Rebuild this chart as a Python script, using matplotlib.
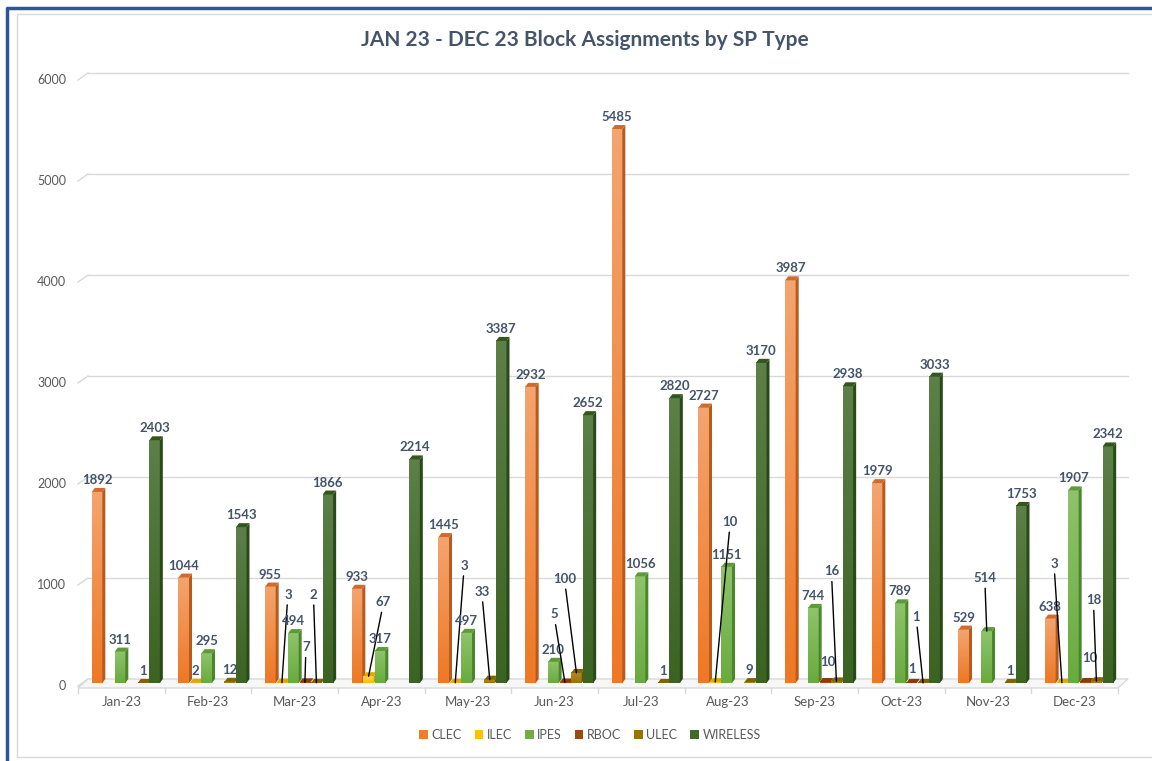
import numpy as np
import matplotlib
matplotlib.use("Agg")
import matplotlib.pyplot as plt
from matplotlib.patches import Polygon, Patch
from matplotlib.lines import Line2D
from matplotlib.colors import LinearSegmentedColormap

plt.rcParams['font.family'] = ['Lato', 'DejaVu Sans']

# data
months = ['Jan-23', 'Feb-23', 'Mar-23', 'Apr-23', 'May-23', 'Jun-23',
          'Jul-23', 'Aug-23', 'Sep-23', 'Oct-23', 'Nov-23', 'Dec-23']
series_names = ['CLEC', 'ILEC', 'IPES', 'RBOC', 'ULEC', 'WIRELESS']
clec = [1892, 1044, 955, 933, 1445, 2932, 5485, 2727, 3987, 1979, 529, 638]
ilec = [0, 2, 3, 67, 3, 0, 0, 10, 0, 0, 0, 3]
ipes = [311, 295, 494, 317, 497, 210, 1056, 1151, 744, 789, 514, 1907]
rboc = [0, 0, 7, 0, 0, 5, 0, 0, 10, 1, 0, 10]
ulec = [1, 12, 2, 0, 33, 100, 1, 9, 16, 1, 1, 18]
wireless = [2403, 1543, 1866, 2214, 3387, 2652, 2820, 3170, 2938, 3033, 1753, 2342]
yticks = [0, 1000, 2000, 3000, 4000, 5000, 6000]

values = [clec, ilec, ipes, rboc, ulec, wireless]

# styles: (front top, front bottom, side, top face, legend)
styles = [
    ('#F4A46F', '#EE7824', '#B65A1E', '#D06B30', '#ED7D31'),
    ('#FFD54F', '#FFC000', '#C99700', '#E0A800', '#FFC000'),
    ('#8EC36B', '#69AB3E', '#4C862C', '#5E9A38', '#70AD47'),
    ('#C0562A', '#A7430F', '#78300A', '#8E3A0C', '#9E480E'),
    ('#B68C1F', '#9A7308', '#6C5105', '#826206', '#997300'),
    ('#5C8048', '#3B6322', '#2A4918', '#34561D', '#43682B'),
]

# label offsets in pixels (dx, dy) for small values, from bar top
label_offsets = {
    (1, 2): (6, 88), (3, 2): (1, 35), (4, 2): (-3, 88),
    (1, 3): (15, 74),
    (1, 4): (9, 117), (4, 4): (-8, 88),
    (3, 5): (-11, 68), (4, 5): (-12, 94),
    (1, 7): (15, 160),
    (3, 8): (3, 20), (4, 8): (-5, 110),
    (3, 9): (0, 14), (4, 9): (-7, 66),
    (2, 10): (-2, 53),
    (1, 11): (-8, 119), (3, 11): (5, 24), (4, 11): (-3, 81),
}

W, H = 1152, 761
fig = plt.figure(figsize=(W / 100, H / 100), dpi=100)
ax = fig.add_axes([88 / W, (H - 679) / H, 1040 / W, 606 / H])
ax.set_xlim(-0.5, 11.5)
ax.set_ylim(0, 6000)
ax.axis('off')

PX = 12 / 1040.0
PY = 6000 / 606.0
text_col = '#595959'
lab_col = '#44546A'

# floor
floor = Polygon([(-0.5, 0), (11.5, 0), (11.5 - 10 * PX, -9 * PY), (-0.5 - 10 * PX, -9 * PY)],
                closed=True, facecolor='#F7F7F7', edgecolor='#D9D9D9', lw=1, clip_on=False, zorder=1)
ax.add_patch(floor)
for j in range(13):
    x = -0.5 - 10 * PX + j
    ax.plot([x, x], [-9 * PY, -14 * PY], color='#D9D9D9', lw=1, clip_on=False, zorder=1)

# gridlines with hooks
for v in yticks:
    if v > 0:
        ax.plot([-0.5, 11.5], [v, v], color='#D9D9D9', lw=1, clip_on=False, zorder=0)
    ax.plot([-0.5, -0.5 - 10 * PX], [v, v - 7 * PY], color='#D9D9D9', lw=1, clip_on=False, zorder=0)
    ax.text(-0.5 - 22 * PX, v - 7 * PY, str(v), ha='right', va='center',
            fontsize=9, color=text_col, clip_on=False)

for k, m in enumerate(months):
    ax.text(k - 10 * PX, -23 * PY, m, ha='center', va='center', fontsize=9.5, color=text_col, clip_on=False)

# bars
bw = 10.5 * PX
sp = 11.5 * PX
ddx = 3 * PX
ddy = 4 * PY
for i, vals in enumerate(values):
    ctop, cbot, cside, ctopf, _ = styles[i]
    cmap = LinearSegmentedColormap.from_list('g%d' % i, [cbot, ctop])
    for k, v in enumerate(vals):
        if v <= 0:
            continue
        # front face centre
        fx = k - 5.5 * PX + (i - 2.5) * sp
        x0, x1 = fx - bw / 2, fx + bw / 2
        y0, y1 = -ddy, v - ddy
        grad = np.linspace(0, 1, 64).reshape(-1, 1)
        ax.imshow(grad, extent=[x0, x1, y0, y1], aspect='auto', cmap=cmap,
                  origin='lower', interpolation='bilinear', zorder=3, clip_on=False)
        side = Polygon([(x1, y0), (x1 + ddx, 0), (x1 + ddx, v), (x1, y1)], closed=True,
                       facecolor=cside, edgecolor='none', zorder=3, clip_on=False)
        top = Polygon([(x0, y1), (x0 + ddx, v), (x1 + ddx, v), (x1, y1)], closed=True,
                      facecolor=ctopf, edgecolor='none', zorder=3, clip_on=False)
        ax.add_patch(side)
        ax.add_patch(top)

        if (i, k) in label_offsets:
            dx, dy = label_offsets[(i, k)]
            if dy > 25:
                ax.annotate(str(v), xy=(fx, y1), xytext=(dx, dy), textcoords='offset pixels',
                            ha='center', va='center', fontsize=9.5, fontweight='bold', color=lab_col,
                            arrowprops=dict(arrowstyle='-', color='black', lw=1, shrinkA=1, shrinkB=0),
                            zorder=6, annotation_clip=False)
            else:
                ax.annotate(str(v), xy=(fx, y1), xytext=(dx, dy), textcoords='offset pixels',
                            ha='center', va='center', fontsize=9.5, fontweight='bold', color=lab_col,
                            zorder=6, annotation_clip=False)
        else:
            ax.annotate(str(v), xy=(fx, y1), xytext=(0, 12), textcoords='offset pixels',
                        ha='center', va='center', fontsize=9.5, fontweight='bold', color=lab_col,
                        zorder=6, annotation_clip=False)

ax.set_xlim(-0.5, 11.5)
ax.set_ylim(0, 6000)

fig.text(585 / W, 1 - 40 / H, 'JAN 23 - DEC 23 Block Assignments by SP Type',
         ha='center', va='center', fontsize=15, fontweight='bold', color=lab_col)

handles = [Patch(facecolor=s[4], edgecolor='none') for s in styles]
fig.legend(handles, series_names, loc='center', bbox_to_anchor=(590 / W, 1 - 735 / H), ncol=6,
           fontsize=9, frameon=False, handlelength=0.7, handleheight=0.7, handletextpad=0.3,
           columnspacing=1.0, labelcolor=text_col)

# frame
fig.add_artist(Line2D([17 / W, 17 / W, 1.0], [1 - 757 / H, 1 - 14 / H, 1 - 14 / H],
                      color='#D9D9D9', lw=1))
fig.add_artist(Line2D([17 / W, 1.0], [1 - 757 / H, 1 - 757 / H], color='#D9D9D9', lw=1))
fig.add_artist(Line2D([7 / W, 7 / W, 1.0], [0.0, 1 - 8 / H, 1 - 8 / H], color='#2F5597', lw=2.5))

fig.savefig('out.png', dpi=100)
